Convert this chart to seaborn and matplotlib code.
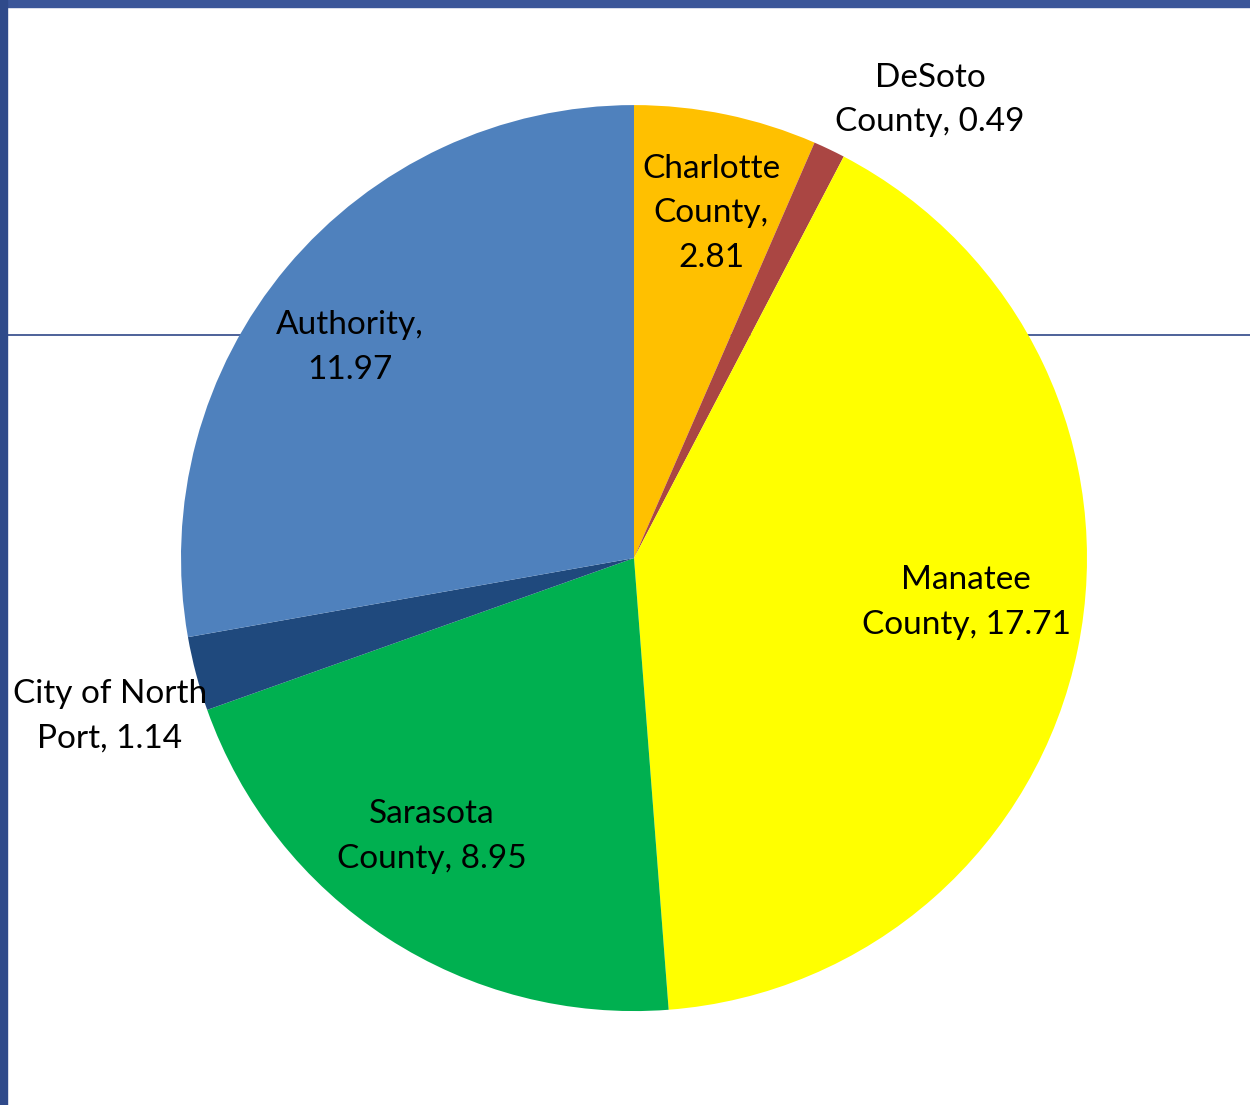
import numpy as np
import matplotlib
matplotlib.use("Agg")
import matplotlib.pyplot as plt
import seaborn as sns
from matplotlib.patches import Rectangle
from matplotlib.lines import Line2D

sns.set_theme(style="white")
plt.rcParams['font.family'] = ['Lato', 'DejaVu Sans']

# Daten
names = ["Charlotte\nCounty", "DeSoto\nCounty", "Manatee\nCounty", "Sarasota\nCounty",
         "City of North\nPort", "Authority"]
values = [2.81, 0.49, 17.71, 8.95, 1.14, 11.97]
seps = ["\n", " ", " ", " ", " ", "\n"]
colors = ["#FFC000", "#AA4643", "#FFFF00", "#00B050", "#1F497D", "#4F81BD"]

# Position der Beschriftung: Abstand, Winkelversatz, Ausrichtung
label_dist = [0.78, 1.03, 0.74, 0.76, 0.98, 0.78]
label_shift = [-0.9, 0, 4.0, -3.0, 1.0, 3.4]
label_ha = ["center", "left", "center", "center", "right", "center"]
label_va = ["center", "bottom", "center", "center", "top", "center"]

labels = [f"{n},{s}{v:.2f}" for n, s, v in zip(names, seps, values)]

fig = plt.figure(figsize=(12.5, 11.05), dpi=100)

# Rahmen + Linie im Hintergrund
fig.add_artist(Line2D([7 / 1250, 1], [1 - 335 / 1105] * 2, color="#3f5591", lw=1.3, zorder=-1))
fig.add_artist(Rectangle((0, 1 - 7 / 1105), 1, 7 / 1105, color="#3b5699", zorder=5))
fig.add_artist(Rectangle((0, 0), 7 / 1250, 1, color="#2f4a8a", zorder=5))

ax = fig.add_axes([0.1448, 0.085, 0.7248, 0.8199])
ax.patch.set_visible(False)
wedges, _ = ax.pie(values, colors=colors, startangle=90, counterclock=False,
                   wedgeprops=dict(linewidth=0))

for w, lab, d, s, ha, va in zip(wedges, labels, label_dist, label_shift, label_ha, label_va):
    ang = np.deg2rad((w.theta1 + w.theta2) / 2 + s)
    ax.text(d * np.cos(ang), d * np.sin(ang), lab, ha=ha, va=va, multialignment="center",
            fontsize=24, linespacing=1.6, color="black")

ax.set_xlim(-1, 1)
ax.set_ylim(-1, 1)
ax.set_aspect("equal")
ax.axis("off")

plt.savefig("out.png", dpi=100)
